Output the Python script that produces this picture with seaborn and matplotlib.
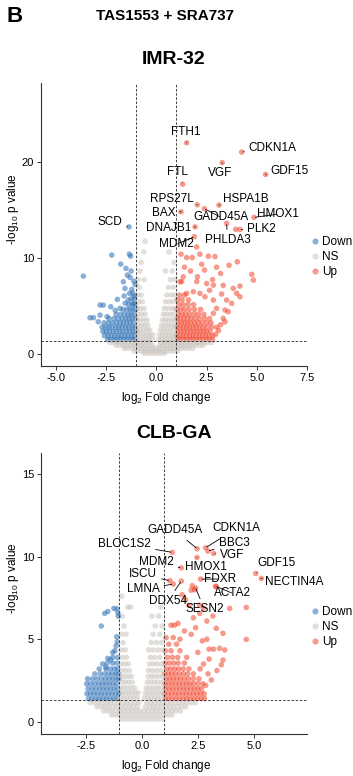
import matplotlib
matplotlib.use('Agg')
import matplotlib.pyplot as plt
import seaborn as sns
import pandas as pd

# ---------------- IMR-32 ----------------
imr_genes = ['FTH1', 'CDKN1A', 'VGF', 'GDF15', 'FTL', 'RPS27L', 'HSPA1B', 'BAX',
             'GADD45A', 'HMOX1', 'SCD', 'DNAJB1', 'PLK2', 'PHLDA3', 'MDM2']
imr_gene_lfc = [1.51, 4.25, 3.28, 5.44, 1.31, 2.04, 3.12, 1.23,
                2.39, 4.86, -1.36, 1.93, 4.16, 3.50, 1.89]
imr_gene_logp = [21.96, 21.0, 19.9, 18.67, 17.65, 15.5, 15.47, 14.77,
                 15.1, 14.19, 13.2, 13.2, 12.93, 13.56, 12.17]

# dense parts written as rows: (-log10 p, [log2 FC, ...])
imr_down_rows = [
    (1.45, [-2.42, -2.27, -2.1, -1.95, -1.79, -1.63, -1.47, -1.31, -1.16, -1.04]),
    (1.85, [-2.58, -2.4, -2.24, -2.07, -1.9, -1.74, -1.57, -1.41, -1.24, -1.08]),
    (2.3, [-2.66, -2.5, -2.33, -2.15, -1.99, -1.82, -1.66, -1.49, -1.33, -1.17, -1.02]),
    (2.75, [-2.7, -2.52, -2.36, -2.2, -2.02, -1.86, -1.7, -1.53, -1.37, -1.2, -1.05]),
    (3.2, [-2.6, -2.38, -2.18, -1.98, -1.8, -1.64, -1.47, -1.31, -1.14]),
    (3.65, [-2.35, -2.1, -1.9, -1.7, -1.52, -1.36, -1.2, -1.04]),
    (4.1, [-2.0, -1.78, -1.58, -1.4, -1.25, -1.09]),
    (4.6, [-1.65, -1.45, -1.3, -1.15, -1.02]),
    (5.1, [-1.38, -1.2, -1.06]),
    (5.7, [-1.25, -1.08]),
]
imr_down_extra = [(-2.22, 10.26), (-1.34, 10.36), (-1.28, 10.15), (-3.63, 8.07), (-1.77, 9.32),
                  (-1.51, 8.87), (-1.44, 8.18), (-1.31, 7.94), (-1.64, 7.48), (-1.56, 6.79),
                  (-1.22, 6.69), (-1.34, 6.27), (-1.17, 6.27), (-1.94, 5.64), (-1.39, 5.57),
                  (-2.8, 5.05), (-2.64, 5.05), (-2.27, 4.88), (-3.3, 3.73), (-3.13, 3.73),
                  (-2.8, 4.0), (-2.89, 3.31), (-1.81, 4.71), (-1.14, 5.23), (-1.05, 7.2),
                  (-1.12, 7.55), (-1.25, 8.6), (-1.6, 6.0), (-2.45, 3.85), (-2.05, 4.5),
                  (-1.55, 5.25), (-1.1, 6.0)]
imr_up_rows = [
    (1.45, [1.04, 1.2, 1.36, 1.52, 1.68, 1.84, 2.0, 2.16, 2.32, 2.48, 2.64, 2.8]),
    (1.85, [1.02, 1.18, 1.34, 1.5, 1.66, 1.82, 1.98, 2.14, 2.3, 2.46, 2.62, 2.8]),
    (2.3, [1.06, 1.22, 1.38, 1.54, 1.7, 1.86, 2.02, 2.18, 2.34, 2.5, 2.68]),
    (2.75, [1.03, 1.19, 1.35, 1.51, 1.67, 1.83, 1.99, 2.16, 2.33, 2.52, 2.75, 3.0]),
    (3.2, [1.08, 1.24, 1.4, 1.56, 1.72, 1.9, 2.08, 2.28, 2.5, 2.72]),
    (3.65, [1.04, 1.2, 1.38, 1.55, 1.74, 1.94, 2.15, 2.4, 2.65]),
    (4.1, [1.1, 1.28, 1.46, 1.66, 1.88, 2.1, 2.36]),
    (4.6, [1.03, 1.22, 1.42, 1.64, 1.9, 2.2]),
    (5.1, [1.12, 1.34, 1.58, 1.85]),
    (5.6, [1.05, 1.28, 1.6]),
    (6.1, [1.15, 1.4]),
]
imr_up_extra = [(2.01, 11.1), (1.23, 10.36), (1.51, 10.0), (1.79, 10.0), (2.17, 10.36), (2.26, 9.3),
                (2.59, 10.15), (2.92, 10.1), (3.2, 8.35), (3.62, 9.2), (4.03, 9.56), (4.75, 8.25),
                (4.83, 7.66), (1.18, 7.48), (4.16, 7.03), (1.4, 9.0), (1.7, 8.6), (2.05, 8.0),
                (2.4, 8.7), (2.8, 7.7), (3.0, 9.0), (3.83, 6.79), (4.0, 6.27), (4.16, 5.92),
                (3.33, 7.1), (2.84, 7.13), (2.51, 7.3), (2.01, 7.5), (1.34, 8.0), (1.26, 7.5),
                (1.51, 6.27), (1.84, 6.44), (2.17, 6.27), (2.42, 5.92), (2.84, 5.57), (3.5, 5.57),
                (3.75, 5.23), (3.0, 4.71), (3.42, 4.53), (3.58, 4.36), (3.33, 3.66), (3.42, 3.31),
                (2.84, 4.19), (3.2, 3.0), (3.1, 2.4), (2.95, 2.0), (3.25, 6.2), (2.65, 6.6),
                (3.95, 12.95)]
imr_ns_rows = [
    (1.5, [-0.95, -0.8, -0.65, -0.5, -0.35, -0.2, 0.12, 0.27, 0.42, 0.57, 0.72, 0.87]),
    (1.95, [-0.92, -0.77, -0.62, -0.47, -0.32, -0.18, 0.15, 0.3, 0.45, 0.6, 0.75, 0.9]),
    (2.45, [-0.96, -0.8, -0.64, -0.48, -0.33, 0.2, 0.36, 0.52, 0.68, 0.84]),
    (2.95, [-0.9, -0.74, -0.58, -0.42, 0.26, 0.42, 0.58, 0.74, 0.9]),
    (3.5, [-0.95, -0.78, -0.62, -0.46, 0.3, 0.46, 0.62, 0.78, 0.94]),
    (4.1, [-0.9, -0.73, -0.56, 0.35, 0.52, 0.7, 0.87]),
    (4.7, [-0.94, -0.78, -0.6, 0.4, 0.58, 0.76, 0.92]),
    (5.4, [-0.88, -0.7, 0.45, 0.65, 0.85]),
    (6.1, [-0.93, -0.75, 0.52, 0.75, 0.93]),
    (6.9, [-0.85, 0.6, 0.85]),
    (7.7, [-0.9, -0.6, 0.7, 0.92]),
    (8.6, [-0.82, 0.45, 0.8]),
    (9.5, [-0.75, 0.88]),
    (10.6, [-0.62, 0.62]),
    (11.7, [-0.56]),
    (1.15, [-2.3, -2.12, -1.94, -1.76, -1.58, -1.4, -1.22, -1.04, -0.86, -0.68, -0.5, -0.32,
            0.22, 0.4, 0.58, 0.76, 0.94, 1.12, 1.3, 1.48, 1.66, 1.84, 2.02, 2.2, 2.38, 2.56, 2.74]),
    (0.85, [-2.0, -1.82, -1.64, -1.46, -1.28, -1.1, -0.92, -0.74, -0.56, -0.38, -0.2,
            0.16, 0.34, 0.52, 0.7, 0.88, 1.06, 1.24, 1.42, 1.6, 1.78, 1.96, 2.14, 2.32]),
    (0.55, [-1.6, -1.42, -1.24, -1.06, -0.88, -0.7, -0.52, -0.34, -0.16, 0.02, 0.2, 0.38,
            0.56, 0.74, 0.92, 1.1, 1.28, 1.46, 1.64, 1.82]),
    (0.25, [-1.1, -0.92, -0.74, -0.56, -0.38, -0.2, -0.02, 0.16, 0.34, 0.52, 0.7, 0.88, 1.06]),
    (0.02, [-0.6, -0.4, -0.2, 0.0, 0.2, 0.4]),
]

# ---------------- CLB-GA ----------------
clb_genes = ['GADD45A', 'CDKN1A', 'BBC3', 'VGF', 'BLOC1S2', 'MDM2', 'HMOX1', 'ISCU',
             'FDXR', 'LMNA', 'DDX54', 'SESN2', 'ACTA2', 'GDF15', 'NECTIN4A']
clb_gene_lfc = [2.47, 2.85, 2.95, 3.2, 1.36, 1.76, 2.46, 1.25,
                2.62, 1.4, 1.76, 2.4, 3.29, 5.08, 5.33]
clb_gene_logp = [10.49, 10.55, 10.35, 10.2, 10.27, 9.33, 9.96, 8.55,
                 8.65, 8.35, 8.53, 8.1, 8.22, 8.99, 8.69]

clb_down_rows = [
    (1.4, [-2.38, -2.22, -2.06, -1.9, -1.74, -1.58, -1.42, -1.26, -1.1]),
    (1.7, [-2.45, -2.29, -2.13, -1.97, -1.81, -1.65, -1.49, -1.33, -1.17, -1.03]),
    (2.0, [-2.4, -2.22, -2.05, -1.88, -1.72, -1.56, -1.4, -1.24, -1.08]),
    (2.3, [-2.46, -2.28, -2.1, -1.92, -1.76, -1.6, -1.44, -1.28, -1.12]),
    (2.6, [-2.42, -2.2, -2.0, -1.8, -1.62, -1.46, -1.3, -1.14, -1.02]),
    (2.9, [-2.1, -1.86, -1.66, -1.48, -1.32, -1.16, -1.04]),
    (3.2, [-1.9, -1.6, -1.4, -1.22, -1.08]),
    (3.55, [-1.55, -1.3, -1.1]),
    (3.9, [-1.3, -1.08]),
    (4.3, [-1.2]),
]
clb_down_extra = [(-1.66, 6.57), (-1.52, 6.68), (-1.07, 6.61), (-1.12, 6.85), (-1.05, 6.4),
                  (-1.81, 5.8), (-1.25, 6.87), (-1.12, 5.15), (-1.1, 4.85), (-1.15, 4.6),
                  (-1.52, 3.84), (-1.4, 3.75), (-1.75, 3.5), (-1.3, 4.2), (-1.6, 3.3)]
clb_up_rows = [
    (1.4, [1.04, 1.2, 1.36, 1.52, 1.68, 1.84, 2.0, 2.16, 2.32, 2.48, 2.64, 2.8]),
    (1.7, [1.02, 1.18, 1.34, 1.5, 1.66, 1.82, 1.98, 2.14, 2.3, 2.46, 2.62, 2.78]),
    (2.0, [1.06, 1.22, 1.38, 1.54, 1.7, 1.86, 2.02, 2.18, 2.34, 2.5, 2.66]),
    (2.3, [1.03, 1.19, 1.35, 1.51, 1.67, 1.83, 1.99, 2.15, 2.31, 2.5, 2.72]),
    (2.6, [1.08, 1.24, 1.4, 1.56, 1.72, 1.9, 2.08, 2.3, 2.55]),
    (2.9, [1.02, 1.18, 1.34, 1.5, 1.68, 1.86, 2.05, 2.3]),
    (3.2, [1.1, 1.28, 1.46, 1.64, 1.85, 2.1]),
    (3.55, [1.04, 1.22, 1.42, 1.62, 1.9]),
    (3.9, [1.14, 1.36, 1.6, 2.0]),
    (4.3, [1.05, 1.3, 1.7]),
    (4.7, [1.2, 1.55]),
    (5.1, [1.08, 1.4]),
]
clb_up_extra = [(2.2, 7.98), (2.35, 8.0), (3.32, 8.18), (3.92, 6.87), (4.66, 6.93), (4.66, 4.99),
                (2.58, 6.57), (3.32, 5.66), (2.58, 7.07), (2.75, 6.9), (3.17, 6.41), (2.9, 6.1),
                (2.3, 6.3), (1.61, 5.96), (1.45, 5.85), (1.3, 5.85), (2.2, 5.3), (3.62, 5.36),
                (3.47, 4.45), (3.7, 4.35), (3.2, 4.4), (3.0, 4.4), (3.62, 3.74), (3.55, 3.45),
                (3.1, 2.53), (2.7, 4.9), (2.9, 5.0), (2.5, 4.2), (2.75, 3.5), (2.6, 3.2),
                (1.9, 5.5), (1.7, 5.0), (3.35, 3.1), (1.95, 7.4), (1.8, 7.7), (2.1, 7.05),
                (2.25, 8.25), (2.4, 5.7), (3.0, 3.8), (2.95, 2.9), (2.85, 2.2)]
clb_ns_rows = [
    (1.45, [-0.95, -0.8, -0.65, -0.5, -0.35, -0.2, 0.12, 0.27, 0.42, 0.57, 0.72, 0.87]),
    (1.75, [-0.9, -0.75, -0.6, -0.45, -0.3, -0.16, 0.16, 0.31, 0.46, 0.61, 0.76, 0.92]),
    (2.05, [-0.96, -0.8, -0.64, -0.48, -0.32, 0.2, 0.36, 0.52, 0.68, 0.84]),
    (2.4, [-0.9, -0.74, -0.58, -0.42, 0.24, 0.4, 0.56, 0.72, 0.9]),
    (2.75, [-0.95, -0.78, -0.62, -0.46, 0.28, 0.44, 0.6, 0.76, 0.94]),
    (3.1, [-0.88, -0.72, -0.55, 0.3, 0.48, 0.66, 0.84]),
    (3.5, [-0.94, -0.76, -0.6, 0.34, 0.52, 0.7, 0.9]),
    (3.9, [-0.86, -0.68, 0.38, 0.58, 0.8]),
    (4.35, [-0.92, -0.74, 0.3, 0.5, 0.72, 0.92]),
    (4.8, [-0.84, 0.42, 0.66, 0.88]),
    (5.3, [-0.9, -0.7, 0.5, 0.8]),
    (5.8, [-0.8, 0.6, 0.9]),
    (6.4, [-0.88, 0.45, 0.75]),
    (6.95, [-0.62, -0.5, 0.85]),
    (7.6, [-0.9]),
    (1.15, [-2.3, -2.12, -1.94, -1.76, -1.58, -1.4, -1.22, -1.04, -0.86, -0.68, -0.5, -0.32,
            -0.14, 0.22, 0.4, 0.58, 0.76, 0.94, 1.12, 1.3, 1.48, 1.66, 1.84, 2.02, 2.2, 2.38]),
    (0.9, [-2.0, -1.82, -1.64, -1.46, -1.28, -1.1, -0.92, -0.74, -0.56, -0.38, -0.2,
           0.16, 0.34, 0.52, 0.7, 0.88, 1.06, 1.24, 1.42, 1.6, 1.78, 1.96]),
    (0.65, [-1.7, -1.52, -1.34, -1.16, -0.98, -0.8, -0.62, -0.44, -0.26, -0.08, 0.1, 0.28,
            0.46, 0.64, 0.82, 1.0, 1.18, 1.36, 1.54, 1.72]),
    (0.4, [-1.35, -1.17, -0.99, -0.81, -0.63, -0.45, -0.27, -0.09, 0.09, 0.27, 0.45, 0.63,
           0.81, 0.99, 1.17, 1.35]),
    (0.15, [-0.9, -0.7, -0.5, -0.3, -0.1, 0.1, 0.3, 0.5, 0.7, 0.9]),
]

groups = ['Down', 'NS', 'Up']
group_colors = {'Down': '#2C70B6', 'NS': '#CBC5BF', 'Up': '#F2452C'}


def build_table(row_sets, extras, gene_lfc, gene_logp):
    pts = []
    for rows in row_sets:
        for y, xs in rows:
            pts += [(x, y) for x in xs]
    pts += extras
    pts += list(zip(gene_lfc, gene_logp))
    df = pd.DataFrame(pts, columns=['lfc', 'logp'])
    df['group'] = 'NS'
    df.loc[(df.lfc < -1) & (df.logp > 1.3), 'group'] = 'Down'
    df.loc[(df.lfc > 1) & (df.logp > 1.3), 'group'] = 'Up'
    return df


imr_df = build_table([imr_down_rows, imr_up_rows, imr_ns_rows],
                     imr_down_extra + imr_up_extra, imr_gene_lfc, imr_gene_logp)
clb_df = build_table([clb_down_rows, clb_up_rows, clb_ns_rows],
                     clb_down_extra + clb_up_extra, clb_gene_lfc, clb_gene_logp)

sns.set_style('ticks')
plt.rcParams['font.family'] = ['Liberation Sans', 'DejaVu Sans']
plt.rcParams['mathtext.fontset'] = 'custom'
plt.rcParams['mathtext.rm'] = 'Liberation Sans'
plt.rcParams['mathtext.it'] = 'Liberation Sans:italic'
plt.rcParams['text.color'] = 'black'
plt.rcParams['axes.labelcolor'] = 'black'
plt.rcParams['xtick.labelcolor'] = 'black'
plt.rcParams['ytick.labelcolor'] = 'black'

fig = plt.figure(figsize=(3.53, 7.76), dpi=100)
W, H = 353, 776


def px_axes(x0, y0, x1, y1):
    return fig.add_axes([x0 / W, 1 - y1 / H, (x1 - x0) / W, (y1 - y0) / H])


ax1 = px_axes(41, 83, 307, 366)
ax2 = px_axes(41, 453, 307, 734)

# label text positions (layout, in data units)
imr_label_pos = [(1.44, 23.1), (5.79, 21.44), (3.17, 18.87), (6.65, 19.04), (1.06, 18.9),
                 (0.77, 16.06), (4.46, 16.06), (0.35, 14.7), (3.22, 14.19), (6.04, 14.53),
                 (-2.3, 13.67), (0.6, 13.04), (5.24, 12.97), (3.55, 11.82), (1.01, 11.4)]
clb_label_pos = [(1.46, 11.62), (4.21, 11.72), (4.11, 10.81), (4.03, 10.1), (-0.77, 10.77),
                 (0.64, 9.66), (2.87, 9.39), (0.05, 8.93), (3.47, 8.65), (0.05, 8.02),
                 (1.16, 7.32), (2.8, 6.81), (4.06, 7.78), (6.0, 9.64), (6.82, 8.45)]

panels = [
    (ax1, imr_df, imr_genes, imr_gene_lfc, imr_gene_logp, imr_label_pos,
     (-5.74, 7.5), (-1.3, 28.2), [-5, -2.5, 0, 2.5, 5, 7.5], [0, 10, 20], 0.46),
    (ax2, clb_df, clb_genes, clb_gene_lfc, clb_gene_logp, clb_label_pos,
     (-4.5, 7.37), (-0.75, 16.3), [-2.5, 0, 2.5, 5], [0, 5, 10, 15], 0.455),
]

for ax, df, genes, glfc, glogp, lpos, xl, yl, xt, yt, leg_y in panels:
    sns.scatterplot(data=df, x='lfc', y='logp', hue='group', hue_order=groups,
                    palette=group_colors, s=16, alpha=0.55, linewidth=0, ax=ax)
    ax.axvline(-1, color='#222222', lw=0.6, ls=(0, (3, 2)), zorder=3)
    ax.axvline(1, color='#222222', lw=0.6, ls=(0, (3, 2)), zorder=3)
    ax.axhline(1.3, color='#222222', lw=0.6, ls=(0, (3, 2)), zorder=3)

    for name, gx, gy, (tx, ty) in zip(genes, glfc, glogp, lpos):
        ax.annotate(name, xy=(gx, gy), xytext=(tx, ty), ha='center', va='center',
                    fontsize=8.5, color='black', zorder=5,
                    arrowprops=dict(arrowstyle='-', color='black', lw=0.6,
                                    shrinkA=1, shrinkB=1))

    ax.set_xlim(*xl)
    ax.set_ylim(*yl)
    ax.set_xticks(xt)
    ax.set_xticklabels([f'{v:.1f}' for v in xt])
    ax.set_yticks(yt)
    ax.tick_params(labelsize=8, length=3, width=0.7, color='#333333',
                   labelcolor='black', pad=2)
    for sp in ['top', 'right']:
        ax.spines[sp].set_visible(False)
    for sp in ['left', 'bottom']:
        ax.spines[sp].set_color('#333333')
        ax.spines[sp].set_linewidth(0.8)

    ax.set_xlabel(r'log$_2$ Fold change', fontsize=8.5, color='black')
    ax.set_ylabel(r'-log$_{10}$ p value', fontsize=8.5, color='black')
    ax.xaxis.set_label_coords(0.47, -0.085)
    ax.yaxis.set_label_coords(-0.075, 0.555)

    handles, labels = ax.get_legend_handles_labels()
    leg = ax.legend(handles, labels, loc='upper left', bbox_to_anchor=(1.015, leg_y),
                    frameon=False, fontsize=8.5, handlelength=0.6, handletextpad=0.35,
                    labelspacing=0.25, borderpad=0, borderaxespad=0, markerscale=1.1)
    for t in leg.get_texts():
        t.set_color('black')

fig.text(15 / W, 1 - 17 / H, 'B', fontsize=16, fontweight='bold', ha='center', va='center',
         color='black')
fig.text(165 / W, 1 - 16 / H, 'TAS1553 + SRA737', fontsize=11, fontweight='bold',
         ha='center', va='center', color='black')
fig.text(174 / W, 1 - 60 / H, 'IMR-32', fontsize=14, fontweight='bold', ha='center',
         va='center', color='black')
fig.text(174 / W, 1 - 433 / H, 'CLB-GA', fontsize=14, fontweight='bold', ha='center',
         va='center', color='black')

fig.savefig('out.png', dpi=100)
